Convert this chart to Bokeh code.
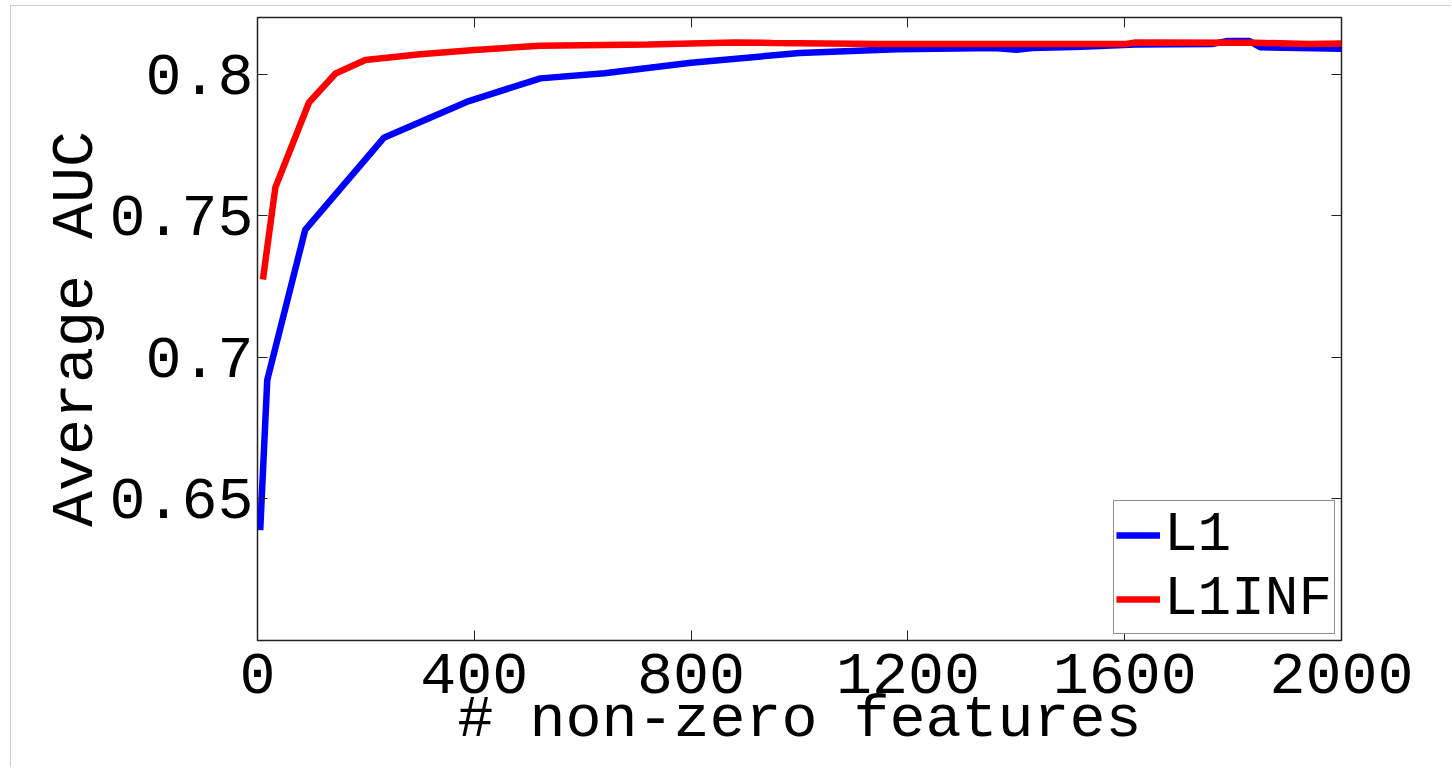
from bokeh.plotting import figure
from bokeh.models import Range1d, LinearAxis, FixedTicker, Legend, LegendItem, CustomLabelingPolicy
from bokeh.embed import file_html
from bokeh.resources import INLINE

# ---- data ----
l1_x = [5, 18, 88, 233, 390, 522, 640, 800, 1000, 1180, 1360, 1400, 1430, 1520, 1620, 1760, 1790, 1830, 1850, 2000]
l1_y = [0.639, 0.692, 0.745, 0.7775, 0.7905, 0.7985, 0.8003, 0.804, 0.8075, 0.8088, 0.8092, 0.8086, 0.8092,
        0.8097, 0.8105, 0.8106, 0.8117, 0.8117, 0.8095, 0.809]
l1inf_x = [10, 33, 95, 144, 199, 300, 400, 520, 720, 880, 950, 1150, 1600, 1620, 1840, 1940, 2000]
l1inf_y = [0.7275, 0.760, 0.790, 0.8002, 0.805, 0.807, 0.8085, 0.8100, 0.8105, 0.8112, 0.8110, 0.8106,
           0.8106, 0.8112, 0.8111, 0.8106, 0.8108]
series_names = ["L1", "L1INF"]
x_ticks = [0, 400, 800, 1200, 1600, 2000]
y_ticks = [0.65, 0.7, 0.75, 0.8]
y_tick_labels = ["0.65", "0.7", "0.75", "0.8"]
x_title = "# non-zero features"
y_title = "Average AUC"

FONT = "Liberation Mono"
FS = "60px"

p = figure(width=1441, height=762, x_range=Range1d(0, 2000), y_range=Range1d(0.6, 0.82),
           output_backend="svg", toolbar_location=None,
           min_border_left=246, min_border_right=111, min_border_top=11, min_border_bottom=128,
           styles={"margin-left": "10px", "margin-top": "5px",
                   "border-left": "1px solid #cccccc", "border-top": "1px solid #cccccc"})
p.background_fill_color = "white"
p.border_fill_color = "white"
p.grid.visible = False
p.outline_line_color = "#222222"
p.outline_line_width = 1.5

for ax in (p.xaxis[0], p.yaxis[0]):
    ax.major_tick_in = 10
    ax.major_tick_out = 0
    ax.minor_tick_in = 0
    ax.minor_tick_out = 0
    ax.axis_line_color = "#222222"
    ax.major_tick_line_color = "#222222"
    ax.major_label_text_font = FONT
    ax.major_label_text_font_size = FS
    ax.major_label_text_color = "black"
    ax.axis_label_text_font = FONT
    ax.axis_label_text_font_size = FS
    ax.axis_label_text_font_style = "normal"
    ax.axis_label_text_color = "black"

p.xaxis[0].ticker = FixedTicker(ticks=x_ticks)
p.xaxis[0].axis_label = x_title
p.xaxis[0].major_label_standoff = 13
p.xaxis[0].axis_label_standoff = -10

p.yaxis[0].ticker = FixedTicker(ticks=y_ticks)
p.yaxis[0].major_label_overrides = dict(zip(y_ticks, y_tick_labels))
p.yaxis[0].axis_label = y_title
p.yaxis[0].major_label_standoff = 4
p.yaxis[0].axis_label_standoff = -4

# mirrored ticks on top and right (no labels)
hide_all = "for (const i of indices) indices.unset(i)"
top = LinearAxis(ticker=FixedTicker(ticks=x_ticks), major_tick_in=10, major_tick_out=0,
                 minor_tick_in=0, minor_tick_out=0, major_label_standoff=0, axis_label_standoff=0,
                 major_label_policy=CustomLabelingPolicy(code=hide_all),
                 axis_line_color=None, major_tick_line_color="#222222")
right = LinearAxis(ticker=FixedTicker(ticks=y_ticks), major_tick_in=10, major_tick_out=0,
                   minor_tick_in=0, minor_tick_out=0, major_label_standoff=0, axis_label_standoff=0,
                   major_label_policy=CustomLabelingPolicy(code=hide_all),
                   axis_line_color=None, major_tick_line_color="#222222")
p.add_layout(top, "above")
p.add_layout(right, "right")

r1 = p.line(l1_x, l1_y, line_color="#0000ff", line_width=6.5)
r2 = p.line(l1inf_x, l1inf_y, line_color="#ff0000", line_width=6.5)

legend = Legend(items=[LegendItem(label=series_names[0], renderers=[r1]),
                       LegendItem(label=series_names[1], renderers=[r2])],
                location="bottom_right", margin=6, padding=2, spacing=0,
                glyph_width=44, glyph_height=44, label_height=44, label_standoff=4,
                label_text_font=FONT, label_text_font_size="56px", label_text_color="black",
                label_text_line_height=0.9,
                border_line_color="#222222", border_line_width=1.5,
                background_fill_color="white", background_fill_alpha=1)
p.add_layout(legend)

open("out.html", "w").write(file_html(p, INLINE))
